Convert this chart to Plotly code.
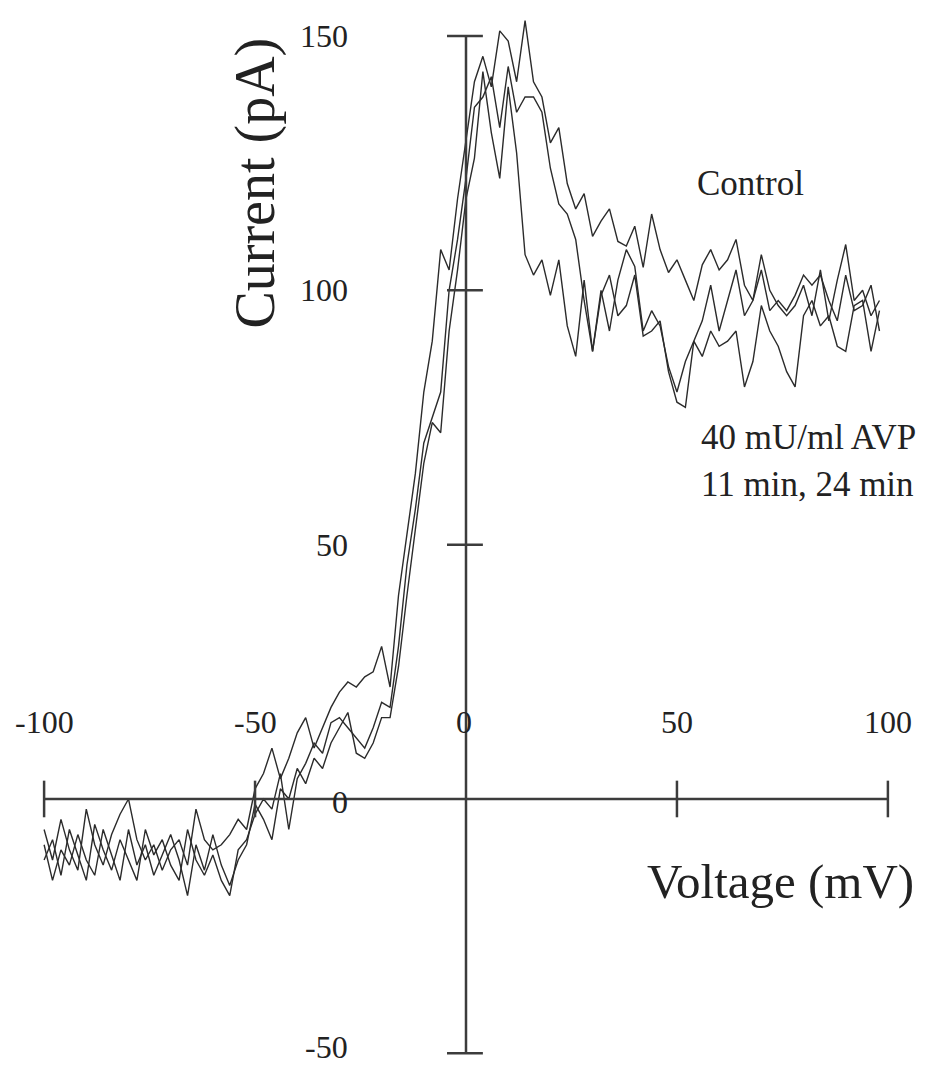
import plotly.graph_objects as go

# sweep voltages (mV), one sample every 2 mV
voltage = [-100, -98, -96, -94, -92, -90, -88, -86, -84, -82,
           -80, -78, -76, -74, -72, -70, -68, -66, -64, -62,
           -60, -58, -56, -54, -52, -50, -48, -46, -44, -42,
           -40, -38, -36, -34, -32, -30, -28, -26, -24, -22,
           -20, -18, -16, -14, -12, -10, -8, -6, -4, -2,
           0, 2, 4, 6, 8, 10, 12, 14, 16, 18,
           20, 22, 24, 26, 28, 30, 32, 34, 36, 38,
           40, 42, 44, 46, 48, 50, 52, 54, 56, 58,
           60, 62, 64, 66, 68, 70, 72, 74, 76, 78,
           80, 82, 84, 86, 88, 90, 92, 94, 96, 98]

# currents (pA)
control = [-6, -12, -4, -10, -14, -2, -9, -13, -7, -3,
           0, -8, -12, -9, -14, -10, -8, -13, -2, -8,
           -10, -9, -7, -4, -6, 2, 5, 10, 4, 8,
           13, 16, 10, 14, 18, 21, 23, 22, 24, 25,
           30, 22, 40, 52, 64, 80, 90, 108, 104, 118,
           130, 141, 146, 140, 151, 149, 141, 153, 141, 138,
           129, 132, 121, 116, 119, 110.6, 113.6, 116, 109.6, 108.7,
           112.6, 104.5, 115, 108, 103.5, 106, 102, 98, 105, 108,
           104, 106, 110, 101, 98, 107, 100, 97, 95, 97,
           101, 95, 104, 94, 102, 109, 98, 100, 95, 98]

avp_11min = [-12, -8, -15, -6, -11, -16, -5, -10, -14, -8,
             -12, -16, -6, -11, -8, -13, -16, -6, -12, -15,
             -11, -16, -19, -10, -8, -3, 0, -2, 5, -6,
             4, 7, 11, 9, 15, 16, 14, 12, 10, 14,
             19, 18, 30, 46, 57, 70, 75, 80, 100, 110,
             122, 136, 138, 142, 132, 144, 135, 138, 138, 135,
             124, 117, 115, 110, 98, 88, 100, 92, 102, 108,
             104.7, 92, 96, 93, 85, 80, 86, 90, 94, 101,
             92, 98, 104, 95, 98, 104, 96, 98, 96, 99,
             103, 101, 103, 98, 94, 103, 96, 97, 101, 92]

avp_24min = [-9, -16, -10, -13, -7, -12, -15, -6, -11, -16,
             -6, -13, -9, -15, -11, -7, -12, -19, -9, -14,
             -7, -13, -17, -12, -9, -1, -4, -8, 2, 0,
             6, 3, 8, 6, 11, 14, 17, 9, 8, 11,
             16, 16, 26, 40, 53, 66, 74, 72, 92, 104,
             118, 126, 143, 131, 122, 140, 127, 107, 103, 106,
             99, 106, 93, 87, 102, 88, 99, 103, 95, 97,
             103, 91, 92, 94, 84, 78, 77, 90, 87, 92,
             89, 90, 92, 81, 86, 97, 92, 89, 84, 81,
             95, 98, 93, 95, 89, 88, 97, 98, 88, 96]

x_ticks = [-100, -50, 50, 100]
x_tick_labels = ['-100', '-50', '50', '100']
y_ticks = [150, 100, 50, -50]
y_tick_labels = ['150', '100', '50', '-50']

font_family = 'Liberation Serif, Times New Roman, serif'
ink = '#2b2b2b'
axis_ink = '#3c3c3c'
text_ink = '#222'

fig = go.Figure()

for name, current in [('Control', control), ('AVP 11 min', avp_11min), ('AVP 24 min', avp_24min)]:
    fig.add_trace(go.Scatter(
        x=voltage,
        y=current,
        mode='lines',
        name=name,
        line=dict(color=ink, width=1.4),
        showlegend=False
    ))

# axes drawn through the origin, like the original figure
shapes = [
    dict(type='line', x0=-100, x1=100, y0=0, y1=0, line=dict(color=axis_ink, width=2.5)),
    dict(type='line', x0=0, x1=0, y0=-50, y1=150, line=dict(color=axis_ink, width=2.5)),
]
for t in x_ticks:
    shapes.append(dict(type='line', x0=t, x1=t, y0=-3.6, y1=3.6,
                       line=dict(color=axis_ink, width=2.5)))
for t in y_ticks:
    shapes.append(dict(type='line', x0=-4.5, x1=4.0, y0=t, y1=t,
                       line=dict(color=axis_ink, width=2.5)))

annotations = []
for t, lab in zip(x_ticks, x_tick_labels):
    annotations.append(dict(x=t, y=15.2, text=lab, showarrow=False,
                            xanchor='center', yanchor='middle',
                            font=dict(size=32, color=text_ink)))
annotations.append(dict(x=-0.5, y=15.2, text='0', showarrow=False,
                        xanchor='center', yanchor='middle', font=dict(size=32, color=text_ink)))
for t, lab in zip(y_ticks, y_tick_labels):
    annotations.append(dict(x=-27.5, y=t if t != -50 else -48.8, text=lab, showarrow=False,
                            xanchor='right', yanchor='middle',
                            font=dict(size=32, color=text_ink)))
annotations.append(dict(x=-27.5, y=-0.5, text='0', showarrow=False,
                        xanchor='right', yanchor='middle', font=dict(size=32, color=text_ink)))

annotations += [
    dict(x=-50, y=121, text='Current (pA)', textangle=-90, showarrow=False,
         xanchor='center', yanchor='middle', font=dict(size=56, color=text_ink)),
    dict(x=74.6, y=-16.3, text='Voltage (mV)', showarrow=False,
         xanchor='center', yanchor='middle', font=dict(size=49, color=text_ink)),
    dict(x=67.5, y=121, text='Control', showarrow=False,
         xanchor='center', yanchor='middle', font=dict(size=35, color=text_ink)),
    dict(x=55.3, y=71, text='40 mU/ml AVP', showarrow=False,
         xanchor='left', yanchor='middle', font=dict(size=35, color=text_ink)),
    dict(x=55.3, y=61.8, text='11 min, 24 min', showarrow=False,
         xanchor='left', yanchor='middle', font=dict(size=35, color=text_ink)),
]

# the page adds an 8 px body margin, so the figure is 8 px smaller than the window
fig.update_layout(
    width=923,
    height=1057,
    margin=dict(l=15, r=22, t=0, b=0),
    paper_bgcolor='white',
    plot_bgcolor='white',
    font=dict(family=font_family),
    shapes=shapes,
    annotations=annotations,
    xaxis=dict(range=[-105, 105], visible=False),
    yaxis=dict(range=[-52.3, 155.5], visible=False),
)

fig.write_html('out.html')
